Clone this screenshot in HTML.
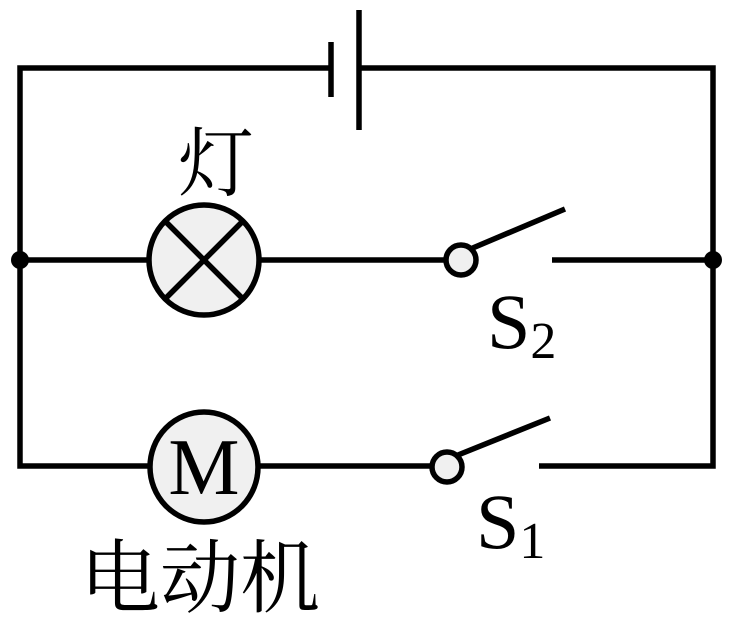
<!DOCTYPE html>
<html><head><meta charset="utf-8"><style>
html,body{margin:0;padding:0;background:#fff;}
svg{display:block}
</style></head><body>
<svg width="732" height="622" viewBox="0 0 732 622" xmlns="http://www.w3.org/2000/svg">
<g stroke="#000" stroke-width="5.5" fill="none">
<polyline points="331,68 20,68 20,466 148,466"/>
<polyline points="359,68 713,68 713,466 539,466"/>
<line x1="331" y1="42" x2="331" y2="97"/>
<line x1="359" y1="10" x2="359" y2="130"/>
<line x1="20" y1="260" x2="150" y2="260"/>
<line x1="258" y1="260" x2="446" y2="260"/>
<line x1="552" y1="260" x2="713" y2="260"/>
<line x1="258" y1="466" x2="432" y2="466"/>
<line x1="468" y1="250" x2="565" y2="209"/>
<line x1="453" y1="457" x2="550" y2="418"/>
</g>
<g stroke="#000" stroke-width="5.5" fill="#f0f0f0">
<ellipse cx="204" cy="260" rx="55" ry="55"/>
<ellipse cx="204" cy="467" rx="54" ry="55"/>
<circle cx="461" cy="260" r="15"/>
<circle cx="447" cy="467" r="15"/>
</g>
<g stroke="#000" stroke-width="5.5">
<line x1="166" y1="222" x2="242" y2="298"/>
<line x1="242" y1="222" x2="166" y2="298"/>
</g>
<circle cx="20" cy="260" r="9" fill="#000"/>
<circle cx="713" cy="260" r="9" fill="#000"/>
<g font-family="Liberation Serif, serif" fill="#000">
<text x="204" y="494" font-size="80" text-anchor="middle">M</text>
<text x="487" y="348" font-size="78">S<tspan font-size="52" dy="10">2</tspan></text>
<text x="476" y="548" font-size="78">S<tspan font-size="52" dy="10">1</tspan></text>
</g>
<g font-family="Liberation Serif, 'Noto Serif CJK SC', serif" fill="#000">
<text x="178" y="190" font-size="76">灯</text>
<text x="80" y="606" font-size="80">电动机</text>
</g>
</svg>
</body></html>
